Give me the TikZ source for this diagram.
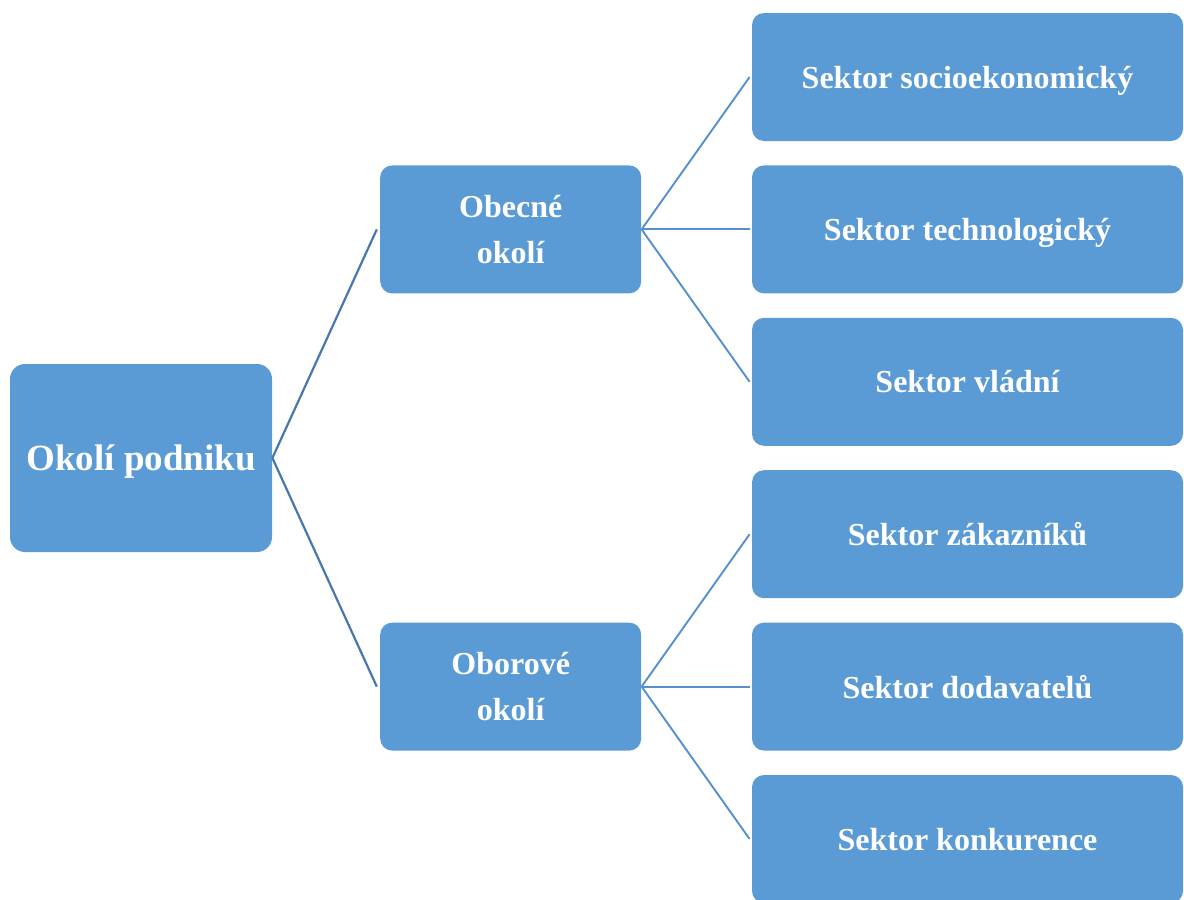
\documentclass[tikz,border=0pt]{standalone}
\usepackage{fontspec}
\setmainfont{Liberation Serif}
\usetikzlibrary{positioning}
\definecolor{okfill}{HTML}{5B9BD5}
\definecolor{okline}{HTML}{4677B0}
\definecolor{okedge}{HTML}{5690CC}

\begin{document}
\begin{tikzpicture}[
        x=0.5pt, y=-0.5pt,
        node distance=11.8pt,
        every node/.style={font=\fontsize{16}{23}\selectfont\bfseries},
        box/.style={
          fill=okfill, text=white,
          rounded corners=6pt, inner sep=0pt,
          text depth=0pt, align=center,
        },
        rootbox/.style={
          box, rounded corners=7.5pt,
          minimum width=131pt, minimum height=94pt,
          font=\fontsize{18.5}{22}\selectfont\bfseries,
        },
        branch/.style={
          box, minimum width=130.5pt, minimum height=64pt,
        },
        sector/.style={
          box, minimum width=215.5pt, minimum height=64pt,
        },
        trunk/.style={
          draw=okline, line width=1.1pt,
        },
        twig/.style={
          draw=okedge, line width=0.95pt,
        },
      ]
      \clip (0,0) rectangle (1184,900);
      \useasboundingbox (0,0) rectangle (1184,900);

      \node[sector] (soc) at (967.5,77) {Sektor socioekonomický};
      \node[sector, below=of soc] (tech) {Sektor technologický};
      \node[sector, below=of tech] (gov) {Sektor vládní};
      \node[sector, below=of gov] (cust) {Sektor zákazníků};
      \node[sector, below=of cust] (supp) {Sektor dodavatelů};
      \node[sector, below=of supp] (comp) {Sektor konkurence};

      \node[branch, left=55pt of tech] (gen) {Obecné\\okolí};
      \node[branch, left=55pt of supp] (ind) {Oborové\\okolí};
      \node[rootbox] (root) at (141,458) {Okolí podniku};

      \draw[trunk] (root.east) -- ([xshift=-1.5pt]gen.west);
      \draw[trunk] (root.east) -- ([xshift=-1.5pt]ind.west);

      \foreach \s in {soc, tech, gov}
        \draw[twig] (gen.east) -- ([xshift=-1pt]\s.west);
      \foreach \s in {cust, supp, comp}
        \draw[twig] (ind.east) -- ([xshift=-1pt]\s.west);
    \end{tikzpicture}
\end{document}
